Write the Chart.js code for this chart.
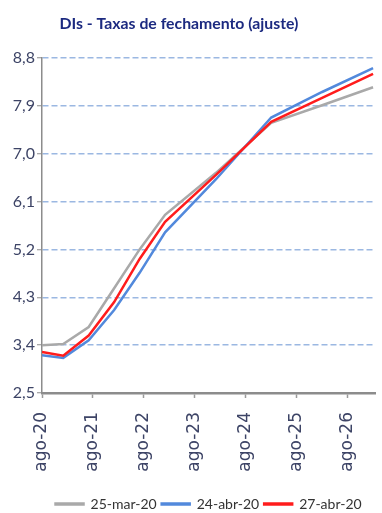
<!DOCTYPE html>
<html>
<head>
<meta charset="utf-8">
<script src="https://cdn.jsdelivr.net/npm/chart.js@4/dist/chart.umd.min.js"></script>
<style>
  html, body { margin: 0; padding: 0; background: #ffffff; }
  #wrap { width: 382px; height: 513px; }
</style>
</head>
<body>
<div id="wrap"><canvas id="c" width="382" height="513"></canvas></div>
<script>
// Curve vertices: months counted from ago-20
const monthsFromStart = [0, 5, 11, 17, 23, 29, 41, 54, 66, 78];

// DI closing rates (%), one array per reference date
const rates25Mar20 = [3.40, 3.42, 3.74, 4.47, 5.20, 5.85, 6.64, 7.58, 7.91, 8.25];
const rates24Abr20 = [3.21, 3.16, 3.49, 4.06, 4.76, 5.52, 6.52, 7.68, 8.16, 8.61];
const rates27Abr20 = [3.27, 3.20, 3.58, 4.21, 5.02, 5.72, 6.60, 7.60, 8.05, 8.50];

// X axis ticks (one per year)
const tickMonths = [0, 12, 24, 36, 48, 60, 72];
const tickLabels = ['ago-20', 'ago-21', 'ago-22', 'ago-23', 'ago-24', 'ago-25', 'ago-26'];

const LABEL_FONT = "Lato, 'DejaVu Sans Condensed', sans-serif";

const toPoints = (vals) => vals.map((v, i) => ({ x: monthsFromStart[i], y: v }));

function series(label, vals, color, order) {
  return {
    label: label,
    data: toPoints(vals),
    borderColor: color,
    backgroundColor: color,
    borderWidth: 2.5,
    pointRadius: 0,
    tension: 0,
    order: order
  };
}

new Chart(document.getElementById('c'), {
  type: 'line',
  data: {
    datasets: [
      series('25-mar-20', rates25Mar20, '#a9a9a9', 2),
      series('24-abr-20', rates24Abr20, '#5289dc', 1),
      series('27-abr-20', rates27Abr20, '#ff1c1c', 0)
    ]
  },
  options: {
    responsive: false,
    animation: false,
    devicePixelRatio: 1,
    layout: { padding: { left: -24, right: 0, top: 0, bottom: -8 } },
    plugins: {
      tooltip: { enabled: false },
      title: {
        display: true,
        text: 'DIs - Taxas de fechamento (ajuste)',
        color: '#1c2a80',
        font: { family: LABEL_FONT, size: 15.8, weight: 'bold' },
        padding: { top: 14, bottom: 25 }
      },
      legend: {
        position: 'bottom',
        fullSize: false,
        labels: {
          boxWidth: 28,
          boxHeight: 1,
          padding: 5,
          color: '#333333',
          font: { family: LABEL_FONT, size: 14, lineHeight: 1 },
          sort: (a, b) => a.datasetIndex - b.datasetIndex
        }
      }
    },
    scales: {
      x: {
        type: 'linear',
        min: 0,
        max: 78.5,
        afterBuildTicks: (s) => { s.ticks = tickMonths.map(v => ({ value: v })); },
        afterFit: (s) => { s.height = 99; },
        ticks: {
          autoSkip: false,
          minRotation: 90,
          maxRotation: 90,
          padding: 14,
          color: '#3d4466',
          font: { family: "'DejaVu Sans', sans-serif", size: 17 },
          callback: (v) => tickLabels[tickMonths.indexOf(v)]
        },
        grid: {
          drawOnChartArea: false,
          drawTicks: true,
          tickLength: 5,
          tickColor: '#9a9a9a',
          tickWidth: 1.5
        },
        border: { color: '#8c8c8c', width: 2.5 }
      },
      y: {
        min: 2.5,
        max: 8.8,
        afterFit: (s) => { s.width = 66; },
        ticks: {
          stepSize: 0.9,
          padding: 2,
          color: '#3d4466',
          font: { family: LABEL_FONT, size: 16 },
          callback: (v) => v.toFixed(1).replace('.', ',')
        },
        grid: {
          color: (ctx) => (ctx.tick && ctx.tick.value <= 2.5 ? 'rgba(0,0,0,0)' : '#9bb8e2'),
          lineWidth: 1.5,
          drawTicks: true,
          tickLength: 5,
          tickColor: '#8c8c8c',
          tickWidth: 1,
          tickBorderDash: []
        },
        border: { color: '#8c8c8c', width: 1.5, dash: [6, 3] }
      }
    }
  }
});
</script>
</body>
</html>
